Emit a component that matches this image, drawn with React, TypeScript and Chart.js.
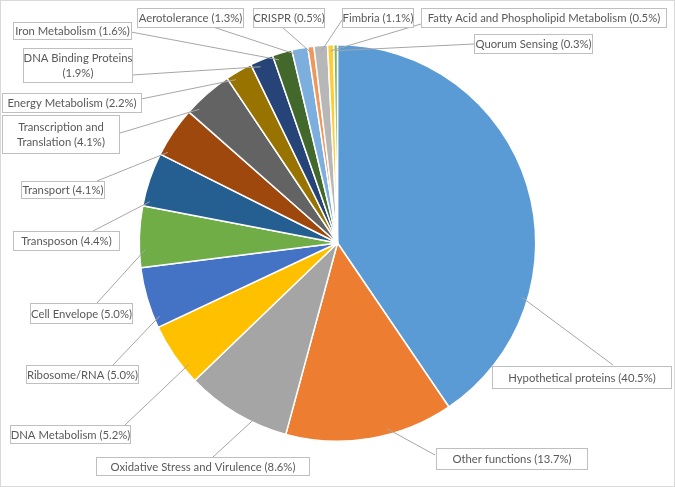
import React, { useEffect, useRef } from "react";
import { Chart, registerables } from "chart.js";

Chart.register(...registerables);

const categories = [
  "Hypothetical proteins",
  "Other functions",
  "Oxidative Stress and Virulence",
  "DNA Metabolism",
  "Ribosome/RNA",
  "Cell Envelope",
  "Transposon",
  "Transport",
  "Transcription and Translation",
  "Energy Metabolism",
  "DNA Binding Proteins",
  "Iron Metabolism",
  "Aerotolerance",
  "CRISPR",
  "Fimbria",
  "Fatty Acid and Phospholipid Metabolism",
  "Quorum Sensing",
];

const percentages = [40.5, 13.7, 8.6, 5.2, 5.0, 5.0, 4.4, 4.1, 4.1, 2.2, 1.9, 1.6, 1.3, 0.5, 1.1, 0.5, 0.3];

// label text as displayed (line breaks where the reference wraps)
const labelTexts = [
  "Hypothetical proteins (40.5%)",
  "Other functions (13.7%)",
  "Oxidative Stress and Virulence (8.6%)",
  "DNA Metabolism (5.2%)",
  "Ribosome/RNA (5.0%)",
  "Cell Envelope (5.0%)",
  "Transposon (4.4%)",
  "Transport (4.1%)",
  "Transcription and\nTranslation (4.1%)",
  "Energy Metabolism (2.2%)",
  "DNA Binding Proteins\n(1.9%)",
  "Iron Metabolism (1.6%)",
  "Aerotolerance (1.3%)",
  "CRISPR (0.5%)",
  "Fimbria (1.1%)",
  "Fatty Acid and Phospholipid Metabolism (0.5%)",
  "Quorum Sensing (0.3%)",
];

const colors = [
  "#5B9BD5", "#ED7D31", "#A5A5A5", "#FFC000", "#4472C4", "#70AD47",
  "#255E91", "#9E480E", "#636363", "#997300", "#264478", "#43682B",
  "#7CAFDD", "#F1975A", "#B7B7B7", "#FFCD33", "#7FB95A",
];

// label box layout [x, y, w, h]
const labelBoxes = [
  [492, 366, 179, 22],
  [436, 448, 151, 21],
  [96, 457, 213, 18],
  [10, 425, 120, 18],
  [26, 365, 112, 18],
  [30, 303, 102, 20],
  [13, 231, 106, 19],
  [21, 181, 83, 17],
  [2, 115, 117, 38],
  [2, 93, 139, 19],
  [23, 48, 109, 34],
  [13, 22, 118, 17],
  [137, 8, 106, 19],
  [253, 8, 71, 19],
  [342, 8, 71, 19],
  [421, 8, 245, 19],
  [474, 34, 118, 19],
];

// leader line end on the label box
const leaderEnds = [
  [613, 365], [435, 455], [213, 457], [125, 425], [113, 365], [97, 303],
  [93, 231], [97, 181], [120, 133], [141, 99], [132, 75], [131, 32],
  [213, 27], [282, 27], [342, 20], [421, 24], [474, 44],
];

// where along each slice the leader line starts (fraction of slice angle)
const leaderStartFrac = [0.73, 0.39, 0.32, 0.25, 0.16, 0.29, 0.1, 0.1, 0.18, 0.25, 0.34, 0.24, 0.3, 0.4, 0.5, 0.5, 0.5];

const labelPlugin = {
  id: "excelLabels",
  afterDraw(chart: any) {
    const ctx = chart.ctx;
    const meta = chart.getDatasetMeta(0);
    ctx.save();
    // outer chart border
    ctx.strokeStyle = "#D9D9D9";
    ctx.lineWidth = 1;
    ctx.strokeRect(0.5, 0.5, chart.width - 1, chart.height - 1);

    // leader lines
    ctx.strokeStyle = "#A6A6A6";
    ctx.lineWidth = 1;
    meta.data.forEach((arc: any, i: number) => {
      const p = arc.getProps(["x", "y", "startAngle", "endAngle", "outerRadius"], true);
      const a = p.startAngle + leaderStartFrac[i] * (p.endAngle - p.startAngle);
      const r = p.outerRadius * 0.97;
      const sx = p.x + r * Math.cos(a);
      const sy = p.y + r * Math.sin(a);
      ctx.beginPath();
      ctx.moveTo(sx, sy);
      ctx.lineTo(leaderEnds[i][0], leaderEnds[i][1]);
      ctx.stroke();
    });

    // boxes and text
    ctx.font = "11.3px Lato";
    ctx.textAlign = "center";
    ctx.textBaseline = "middle";
    labelTexts.forEach((t, i) => {
      const [x, y, w, h] = labelBoxes[i];
      ctx.fillStyle = "#FFFFFF";
      ctx.fillRect(x, y, w, h);
      ctx.strokeStyle = "#BFBFBF";
      ctx.strokeRect(x + 0.5, y + 0.5, w, h);
      ctx.fillStyle = "#595959";
      const lines = t.split("\n");
      const lh = 15;
      const cy = y + h / 2 + 1;
      lines.forEach((ln, k) => {
        ctx.fillText(ln, x + w / 2 + 0.5, cy + (k - (lines.length - 1) / 2) * lh);
      });
    });
    ctx.restore();
  },
};

export default function App() {
  const ref = useRef<HTMLCanvasElement | null>(null);
  useEffect(() => {
    document.body.style.margin = "0";
    const chart = new Chart(ref.current as HTMLCanvasElement, {
      type: "pie",
      data: {
        labels: categories,
        datasets: [
          {
            data: percentages,
            backgroundColor: colors,
            borderColor: "#FFFFFF",
            borderWidth: 1.5,
          },
        ],
      },
      options: {
        responsive: false,
        animation: false,
        layout: { padding: { left: 138, right: 138, top: 44, bottom: 45 } },
        plugins: {
          legend: { display: false },
          tooltip: { enabled: false },
          title: { display: false },
        },
      },
      plugins: [labelPlugin],
    });
    return () => chart.destroy();
  }, []);
  return (
    <div style={{ position: "absolute", left: 0, top: 0, width: 675, height: 487, background: "#fff" }}>
      <canvas ref={ref} width={675} height={487} />
    </div>
  );
}
